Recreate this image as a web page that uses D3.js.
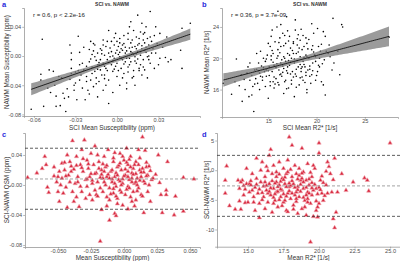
<!DOCTYPE html>
<html><head><meta charset="utf-8">
<script src="https://cdn.jsdelivr.net/npm/d3@7"></script>
<style>html,body{margin:0;padding:0;background:#fff}svg{display:block;font-family:"Liberation Sans",Arial,sans-serif}</style>
</head><body><svg id="c" width="400" height="261"></svg>
<script>
// ---------- data ----------
const panelTitles = ["SCI vs. NAWM","SCI vs. NAWM"];
const panelLetters = ["a","b","c","d"];
const annotA = "r = 0.6, p < 2.2e-16";
const annotB = "r = 0.36, p = 3.7e-09";
const ticksAx = [-0.06,-0.03,0,0.03], ticksAxLab = ["-0.06","-0.03","0.00","0.03"];
const ticksAy = [-0.08,-0.04,0,0.04], ticksAyLab = ["-0.08","-0.04","0.00","0.04"];
const ticksBx = [15,20,25], ticksBxLab = ["15","20","25"];
const ticksBy = [16,20,24], ticksByLab = ["16","20","24"];
const ticksCx = [-0.05,-0.025,0,0.025,0.05], ticksCxLab = ["-0.050","-0.025","0.000","0.025","0.050"];
const ticksCy = [-0.08,-0.04,0,0.04], ticksCyLab = ["-0.08","-0.04","0.00","0.04"];
const ticksDx = [15,17.5,20,22.5,25], ticksDxLab = ["15.0","17.5","20.0","22.5","25.0"];
const ticksDy = [-10,-5,0,5], ticksDyLab = ["-10","-5","0","5"];
const loaC = [0.049, 0.008, -0.0324];   // upper, mean, lower
const loaD = [2.5, -2.65, -7.78];

const qsmPairs = [
[-0.062,-0.073],[-0.054,0.023],[-0.055,-0.025],[-0.055,-0.033],[-0.053,-0.069],[-0.049,-0.019],[-0.046,-0.021],[-0.044,-0.069],[-0.041,-0.068],[-0.042,-0.028],
[-0.039,-0.051],[-0.037,-0.076],[-0.035,-0.056],[-0.034,0.015],[-0.033,0.004],[-0.033,-0.017],[-0.033,-0.024],[-0.031,-0.047],[-0.030,-0.037],[-0.029,-0.060],
[-0.028,0.027],[-0.027,-0.033],[-0.027,-0.012],[-0.025,-0.044],[-0.024,-0.019],[-0.023,-0.060],[-0.022,-0.028],[-0.021,-0.047],[-0.020,-0.008],[-0.020,0.009],
[-0.019,-0.033],[-0.018,-0.015],[-0.017,-0.042],[-0.017,0.017],[-0.016,-0.021],[-0.016,-0.001],[-0.015,-0.030],[-0.014,0.004],[-0.014,-0.056],[-0.013,-0.012],
[-0.013,-0.035],[-0.012,-0.005],[-0.012,-0.019],[-0.011,0.008],[-0.010,-0.047],[-0.010,-0.010],[-0.009,-0.026],[-0.009,0.001],[-0.008,0.013],[-0.008,-0.017],
[-0.007,0.020],[-0.007,-0.005],[-0.006,-0.065],[-0.006,-0.033],[-0.005,-0.001],[-0.004,0.006],[-0.004,-0.012],[-0.003,-0.021],[-0.002,0.015],[-0.002,-0.003],
[-0.001,0.031],[-0.001,0.004],[0.000,-0.028],[0.000,-0.010],[0.001,0.013],[0.002,-0.001],[0.002,0.024],[0.003,-0.017],[0.004,0.008],[0.004,-0.005],
[0.005,0.017],[0.005,-0.024],[0.006,0.004],[0.007,-0.037],[0.007,-0.003],[0.008,0.031],[0.008,-0.015],[0.009,0.011],[0.010,0.047],[0.010,-0.008],
[0.011,0.022],[0.011,0.004],[0.012,-0.028],[0.013,0.013],[0.013,-0.001],[0.014,0.026],[0.014,-0.010],[0.015,0.006],[0.015,0.056],[0.016,0.017],
[0.016,-0.017],[0.017,0.001],[0.017,0.033],[0.018,0.010],[0.019,-0.005],[0.019,0.022],[0.020,-0.019],[0.020,0.008],[0.021,0.040],[0.022,-0.001],
[0.023,0.015],[0.024,0.061],[0.024,0.026],[0.025,0.004],[0.027,-0.017],[0.028,0.040],[0.029,0.017],[0.031,-0.003],[0.037,-0.008],[0.039,-0.005],
[0.046,0.008],[0.047,0.038],[0.047,-0.017],[0.053,0.045],[0.031,0.031],[0.036,0.026],
[-0.018,0.002],[-0.015,-0.006],[-0.012,0.010],[-0.009,-0.014],[-0.006,0.004],[-0.003,-0.007],[0.000,0.008],[0.003,-0.003],[0.006,0.012],[0.009,-0.012],
[0.012,0.002],[0.015,-0.004],[0.018,0.014],[0.021,0.005],[0.024,-0.010],[0.002,0.018],[-0.004,0.020],[0.010,0.018],[0.014,0.010],[0.017,-0.012],
[0.020,0.018],[0.023,0.000],[-0.025,-0.010],[-0.022,-0.035],[-0.028,-0.020],[-0.031,-0.040],[-0.036,-0.045],[-0.040,-0.030],[-0.045,-0.040],[-0.050,-0.044],
[-0.048,-0.050],[-0.038,-0.058],[-0.020,-0.052],[-0.008,-0.040],[0.004,-0.030],[0.008,-0.022],[0.001,-0.020],[-0.011,-0.026],[-0.014,-0.018],[0.016,-0.020],
[0.011,-0.030],[0.026,0.010],[0.019,0.030],[0.012,0.035],[0.005,0.028],[-0.002,0.025],[-0.010,0.022],[-0.016,0.015],[0.028,0.004],[0.030,-0.012],
[0.007,-0.045],[-0.003,-0.050],[0.013,-0.040],[-0.027,0.005],[-0.033,-0.005],[0.022,0.024],[0.018,0.045],[0.009,0.040],[-0.006,0.035],[-0.019,0.020],
[-0.019,-0.004],[-0.017,0.007],[-0.013,-0.009],[-0.011,0.003],[-0.007,-0.020],[-0.005,0.011],[-0.001,-0.014],[0.001,0.002],[0.003,0.010],[0.005,-0.011],
[0.007,0.007],[0.009,-0.003],[0.011,0.012],[0.013,-0.007],[0.015,0.015],[0.017,0.006],[0.019,-0.015],[0.021,0.012],[0.023,-0.005],[0.025,0.020],
[0.014,0.003],[0.010,0.006],[0.006,-0.008],[0.002,0.005],[-0.002,-0.018],[-0.006,-0.009],[-0.010,0.015],[-0.014,-0.012],[-0.018,-0.024],[-0.022,-0.014],
[-0.026,-0.026],[-0.030,-0.022],[-0.034,-0.032],[-0.024,0.012],[0.000,0.020],[0.004,0.015],[0.008,0.023],[0.016,0.024],[0.020,0.032],[0.027,0.028],
[0.033,0.012],[0.035,-0.002],[-0.003,0.000],[0.012,-0.020],[0.018,-0.026],[-0.009,-0.031],[-0.015,-0.038],[0.002,-0.040],[0.022,-0.030],[-0.044,-0.055]
];

const r2Pairs = [
[10.35,16.8],[11.2,15.4],[11.55,17.0],[11.7,19.9],[12.2,17.9],[12.3,14.5],[12.6,16.0],[12.8,18.1],[13.0,15.1],[13.1,19.4],
[13.1,17.2],[13.3,15.3],[13.4,16.4],[13.5,13.2],[13.6,18.5],[13.7,17.4],[13.8,20.6],[13.9,16.8],[14.0,19.4],[14.1,18.1],
[14.1,16.0],[14.2,20.9],[14.3,19.0],[14.4,17.2],[14.5,20.0],[14.6,18.3],[14.7,16.4],[14.7,19.6],[14.8,17.7],[14.9,20.4],
[15.0,14.9],[15.1,18.9],[15.2,21.5],[15.2,17.0],[15.3,19.8],[15.3,22.8],[15.4,18.3],[15.4,23.6],[15.5,20.6],[15.6,16.2],
[15.6,19.1],[15.7,22.1],[15.8,17.4],[15.9,24.0],[15.9,20.0],[16.0,21.1],[16.0,26.0],[16.1,18.5],[16.1,16.6],[16.2,22.6],
[16.3,19.4],[16.3,21.5],[16.4,17.7],[16.5,23.2],[16.6,15.5],[16.6,20.2],[16.6,18.7],[16.7,17.0],[16.8,21.9],[16.8,19.6],
[16.9,25.3],[17.0,18.1],[17.0,20.6],[17.1,16.2],[17.2,22.8],[17.2,19.1],[17.3,21.3],[17.4,17.2],[17.4,20.0],[17.5,18.3],
[17.6,22.1],[17.7,15.1],[17.7,19.4],[17.8,24.9],[17.9,20.6],[17.9,17.7],[18.0,21.7],[18.1,18.9],[18.1,23.0],[18.2,16.6],
[18.3,20.2],[18.3,22.3],[18.4,18.3],[18.5,21.1],[18.6,19.6],[18.6,17.2],[18.7,21.5],[18.8,18.9],[18.9,20.4],[19.0,16.0],
[19.0,21.9],[19.1,18.5],[19.2,20.0],[19.3,17.7],[19.5,21.1],[19.6,19.4],[19.7,23.2],[19.8,20.4],[19.9,17.2],[20.1,23.8],
[20.2,21.5],[20.3,18.9],[20.4,20.9],[20.5,17.0],[20.7,23.4],[20.9,15.3],[21.0,20.9],[21.2,20.6],[21.4,20.2],[21.6,18.5],
[21.7,25.1],[22.6,24.3],[22.7,24.0],[22.4,17.9],[27.5,22.7],
[15.5,19.5],[15.8,18.8],[16.0,20.3],[16.2,17.9],[16.4,19.8],[16.6,21.6],[16.9,18.4],[17.1,19.7],[17.3,18.0],[17.5,21.0],
[17.7,19.9],[17.9,18.6],[18.1,20.8],[18.3,19.2],[18.5,17.6],[18.7,20.1],[18.9,18.2],[19.1,21.2],[19.3,19.0],[19.5,17.9],
[19.7,20.8],[19.9,19.6],[20.1,18.3],[20.3,20.0],[20.6,19.3],[14.5,18.8],[14.8,19.9],[15.1,17.8],[15.4,21.0],[15.7,16.7],
[16.1,22.0],[16.5,19.0],[16.8,17.2],[17.2,20.4],[17.6,17.6],[18.0,22.5],[18.4,18.7],[18.8,16.9],[19.2,22.4],[19.6,18.4],
[14.2,17.7],[13.8,18.6],[13.3,17.8],[12.9,18.9],[12.5,17.3],[17.0,23.5],[17.8,23.6],[18.6,22.9],[16.3,24.3],[19.0,15.6],
[15.0,18.4],[15.3,20.3],[15.6,17.6],[15.9,19.3],[16.2,20.7],[16.5,18.2],[16.7,20.0],[17.0,18.9],[17.3,19.5],[17.6,20.6],
[17.8,18.0],[18.0,19.7],[18.2,21.3],[18.5,18.9],[18.7,19.2],[19.0,20.2],[19.3,18.6],[19.6,21.6],[19.9,20.2],[20.2,19.1],
[20.5,21.8],[20.8,19.8],[21.3,21.7],[21.8,19.4],[22.2,20.9],[14.0,18.4],[14.4,17.6],[14.8,18.5],[15.2,16.5],[15.5,17.0],
[16.0,16.9],[16.3,18.0],[16.9,16.1],[17.4,16.7],[17.9,16.3],[18.3,17.5],[18.9,17.8],[19.4,16.8],[20.0,17.8],[20.7,16.6],
[17.1,22.2],[17.6,21.9],[18.4,23.7],[18.9,22.6],[16.7,22.9],[19.5,24.4],[20.9,22.8],[15.0,21.9],[13.6,16.7],[12.0,16.5]
];

const qsmBA = [
[-0.073,0.010],[-0.066,0.016],[-0.062,0.022],[-0.060,0.038],[-0.059,0.027],[-0.058,-0.003],[-0.057,-0.010],[-0.053,0.024],[-0.051,0.004],[-0.050,0.011],
[-0.050,-0.009],[-0.049,0.018],[-0.049,-0.022],[-0.048,0.000],[-0.047,0.029],[-0.047,0.009],[-0.046,-0.011],[-0.045,0.020],[-0.044,-0.003],[-0.043,0.040],
[-0.043,-0.030],[-0.042,0.013],[-0.041,0.004],[-0.041,0.031],[-0.039,-0.009],[-0.039,0.059],[-0.038,-0.022],[-0.038,0.021],[-0.037,0.002],[-0.036,0.038],
[-0.036,-0.016],[-0.035,0.011],[-0.034,-0.029],[-0.033,0.027],[-0.033,-0.002],[-0.032,0.047],[-0.032,-0.009],[-0.031,0.018],[-0.030,0.060],[-0.029,0.007],
[-0.029,-0.018],[-0.028,0.033],[-0.028,-0.002],[-0.027,0.022],[-0.026,-0.013],[-0.026,0.011],[-0.025,0.042],[-0.024,0.002],[-0.024,-0.020],[-0.023,0.027],
[-0.022,-0.007],[-0.022,0.052],[-0.021,0.016],[-0.021,-0.013],[-0.020,0.004],[-0.019,0.031],[-0.018,-0.004],[-0.018,-0.075],[-0.017,0.020],[-0.017,-0.033],
[-0.016,0.009],[-0.016,-0.009],[-0.015,0.038],[-0.014,0.000],[-0.014,0.024],[-0.013,-0.016],[-0.013,0.011],[-0.012,0.047],[-0.011,-0.004],[-0.011,-0.047],
[-0.010,0.018],[-0.009,0.004],[-0.008,-0.011],[-0.008,0.031],[-0.007,-0.038],[-0.007,0.011],[-0.006,-0.041],[-0.006,-0.002],[-0.005,0.024],[-0.005,-0.018],
[-0.004,0.007],[-0.003,0.042],[-0.003,-0.007],[-0.002,0.020],[-0.001,-0.027],[-0.001,0.002],[0.000,0.033],[0.001,-0.013],[0.001,0.013],[0.002,0.049],
[0.003,-0.002],[0.003,0.027],[0.004,0.007],[0.005,-0.016],[0.005,0.038],[0.006,0.016],[0.007,-0.009],[0.007,0.022],[0.008,0.002],[0.009,-0.020],
[0.009,0.031],[0.010,0.009],[0.011,0.047],[0.011,-0.004],[0.012,0.020],[0.013,-0.013],[0.013,0.011],[0.014,0.064],[0.015,-0.037],[0.016,0.046],
[0.016,0.002],[0.017,0.024],[0.018,-0.009],[0.018,0.013],[0.020,-0.022],[0.021,0.007],[0.022,0.009],[0.026,0.040],[0.028,-0.013],[0.029,-0.037],
[0.032,-0.013],[0.032,-0.007],[0.033,0.031],[0.038,-0.040],[0.039,-0.015],[0.045,0.010],[0.045,-0.035],[0.053,0.008],
[-0.012,0.014],[-0.009,0.008],[-0.006,0.016],[-0.003,0.005],[0.000,0.012],[0.003,0.018],[0.006,0.004],[0.009,0.015],[0.012,0.006],[0.015,0.017],
[-0.015,0.018],[-0.018,0.010],[-0.004,0.026],[0.002,0.030],[0.008,0.027],[-0.008,-0.005],[-0.002,-0.010],[0.004,-0.004],[0.010,-0.008],[0.014,-0.015],
[-0.011,-0.020],[-0.005,-0.025],[0.006,-0.022],[-0.020,-0.015],[-0.024,0.006],[-0.027,0.028],[-0.031,0.035],[-0.036,0.026],[-0.040,0.018],[-0.044,0.012],
[0.017,0.030],[0.019,0.000],[0.020,0.019],[-0.001,0.038],[-0.007,0.043],[0.012,0.036],[-0.016,0.028],[-0.022,0.015],[-0.013,-0.028],[0.003,-0.032],
[-0.019,0.022],[-0.017,0.014],[-0.015,0.004],[-0.013,0.026],[-0.011,0.009],[-0.009,0.020],[-0.007,0.002],[-0.005,0.013],[-0.003,0.029],[-0.001,0.008],
[0.001,0.021],[0.003,0.011],[0.005,0.024],[0.007,0.014],[0.009,0.004],[0.011,0.027],[0.013,0.017],[0.015,0.005],[0.017,0.012],[0.019,0.025],
[-0.010,-0.012],[-0.006,-0.015],[-0.002,0.000],[0.002,-0.006],[0.006,0.009],[0.010,0.000],[0.014,0.022],[-0.025,0.015],[-0.028,0.008],[-0.032,0.023],
[-0.035,0.004],[-0.040,0.025],[-0.045,0.030],[-0.053,0.012],[0.024,0.014],[0.027,0.003],[0.004,0.034],[-0.008,0.036],[-0.020,0.040],[0.008,-0.028]
];

const r2BA = [
[13.4,-1.7],[13.5,0.7],[13.4,-3.9],[13.7,-6.0],[14.1,-6.6],[14.3,-1.7],[14.4,-3.1],[14.4,-5.2],[14.5,-6.6],[14.6,-1.7],
[14.7,-4.2],[14.8,-5.5],[14.9,0.3],[14.9,-2.3],[15.0,-5.4],[15.1,-3.7],[15.1,-2.3],[15.2,-2.5],[15.3,-0.6],[15.4,-4.5],
[15.4,-5.4],[15.5,-6.8],[15.5,-2.9],[15.6,-1.4],[15.6,2.0],[15.7,-3.9],[15.8,-5.6],[15.8,-8.0],[15.9,-2.0],[15.9,0.0],
[16.0,1.4],[16.1,-4.5],[16.1,-2.7],[16.2,-6.5],[16.2,-1.1],[16.3,-3.4],[16.3,0.6],[16.4,-5.4],[16.5,-2.3],[16.5,2.5],
[16.6,-4.2],[16.6,3.5],[16.7,-0.6],[16.7,-7.1],[16.8,-3.1],[16.8,0.8],[16.9,-5.1],[17.0,-2.0],[17.0,-3.7],[17.0,-0.3],
[17.1,-6.2],[17.2,-2.5],[17.2,1.4],[17.3,-4.5],[17.4,-1.4],[17.4,-3.4],[17.5,0.3],[17.5,-5.4],[17.6,-2.3],[17.7,-6.8],
[17.7,-0.6],[17.8,-3.9],[17.8,1.7],[17.9,-2.8],[17.9,5.6],[18.0,-4.8],[18.1,-1.1],[18.1,4.2],[18.2,-5.9],[18.2,-2.3],
[18.3,0.8],[18.4,-3.7],[18.4,-0.6],[18.5,-7.3],[18.5,-2.8],[18.6,0.3],[18.6,-4.5],[18.7,-1.7],[18.8,-6.5],[18.8,3.7],
[18.9,-3.1],[18.9,-0.3],[19.0,-5.1],[19.1,-1.7],[19.1,-7.6],[19.2,-3.7],[19.2,1.1],[19.3,-2.5],[19.4,-5.6],[19.5,-1.1],
[19.5,-4.2],[19.6,-7.8],[19.7,0.3],[19.8,-3.1],[19.9,-6.2],[19.9,-7.9],[20.0,4.6],[20.0,2.9],[20.1,-1.7],[20.2,-3.9],
[20.3,-5.1],[20.5,-2.5],[20.6,1.4],[20.7,0.6],[20.8,-0.6],[20.9,-3.7],[21.0,-1.6],[21.0,-8.2],[21.1,-9.7],[21.1,2.0],
[21.2,-7.1],[21.3,-3.7],[21.6,-0.6],[21.9,-3.4],[22.4,-2.0],[23.2,-1.3],[23.4,-1.7],[23.5,-3.5],[25.0,4.6],[19.4,-12.1],
[16.6,-3.0],[16.9,-2.2],[17.1,-3.6],[17.3,-1.9],[17.5,-4.0],[17.7,-2.8],[17.9,-3.5],[18.1,-1.8],[18.3,-4.2],[18.5,-3.3],
[18.7,-2.4],[18.9,-4.6],[19.1,-2.9],[19.3,-3.9],[19.5,-2.1],[16.4,-3.9],[16.8,-4.6],[17.2,-5.0],[17.6,-1.2],[18.0,-2.6],
[18.4,-5.3],[18.8,-1.4],[19.2,-4.8],[19.6,-3.4],[20.0,-2.9],[15.8,-3.2],[16.2,-2.0],[17.0,-1.1],[17.8,-0.3],[18.6,-0.9],
[19.4,-0.4],[20.2,-1.0],[20.4,-4.3],[17.4,-6.0],[18.2,-6.6],[19.0,-6.2],[16.0,-5.0],[15.3,-3.4],[14.7,-2.6],[19.8,-5.2],
[16.3,-2.6],[16.5,-3.6],[16.7,-1.8],[16.9,-4.0],[17.1,-2.8],[17.3,-3.2],[17.5,-1.6],[17.7,-4.4],[17.9,-2.2],[18.1,-3.9],
[18.3,-2.9],[18.5,-1.5],[18.7,-3.6],[18.9,-2.0],[19.1,-4.2],[19.3,-1.5],[19.5,-3.0],[19.7,-2.4],[19.9,-4.0],[20.1,-3.3],
[20.3,-2.1],[20.6,-3.9],[16.0,-3.8],[15.6,-2.4],[15.2,-1.8],[14.8,-3.2],[14.5,-2.0],[16.8,-5.6],[17.6,-5.1],[18.4,-4.8],
[19.2,-5.4],[20.0,-5.6],[17.2,-0.7],[18.0,0.1],[18.8,-0.5],[19.6,0.8],[16.4,-0.1],[20.5,-0.2],[17.8,-7.0],[19.8,-6.8]
];

// ---------- drawing ----------
const svg = d3.select("#c");
const FONT = '"Liberation Sans",Arial,sans-serif';
const AXC = "#8a8a8a", TXT = "#4d4d4d";

const panels = [
 {x0:24,x1:200,y0:8,y1:116, xd:[-0.0672,0.060], yd:[-0.0822,0.0658], tx:ticksAx, txl:ticksAxLab, ty:ticksAy, tyl:ticksAyLab,
  xt:"SCI Mean Susceptibility (ppm)", yt:"NAWM Mean Susceptibility (ppm)", data:qsmPairs, kind:"reg", title:panelTitles[0], annot:annotA, letter:panelLetters[0], lx:2, ly:7, ytx:6.5, xtY:129.5},
 {x0:222,x1:398,y0:8,y1:117, xd:[10.21,28.43], yd:[12.5,26.42], tx:ticksBx, txl:ticksBxLab, ty:ticksBy, tyl:ticksByLab,
  xt:"SCI Mean R2* [1/s]", yt:"NAWM Mean R2* [1/s]", data:r2Pairs, kind:"reg", title:panelTitles[1], annot:annotB, letter:panelLetters[1], lx:202, ly:7, ytx:206.5, xtY:130},
 {x0:25,x1:200,y0:133,y1:247, xd:[-0.075,0.0576], yd:[-0.0827,0.0693], tx:ticksCx, txl:ticksCxLab, ty:ticksCy, tyl:ticksCyLab,
  xt:"Mean Susceptibility (ppm)", yt:"SCI-NAWM QSM (ppm)", data:qsmBA, kind:"ba", loa:loaC, letter:panelLetters[2], lx:2, ly:137, ytx:6.5, xtY:260},
 {x0:217,x1:400,y0:133,y1:246.7, xd:[12.82,25.7], yd:[-12.9,6.27], tx:ticksDx, txl:ticksDxLab, ty:ticksDy, tyl:ticksDyLab,
  xt:"Mean R2* [1/s]", yt:"SCI-NAWM R2* [1/s]", data:r2BA, kind:"ba", loa:loaD, letter:panelLetters[3], lx:202, ly:137, ytx:206.5, xtY:260}
];

function linfit(data){
  const n=data.length, mx=d3.mean(data,d=>d[0]), my=d3.mean(data,d=>d[1]);
  let sxx=0,sxy=0; data.forEach(d=>{sxx+=(d[0]-mx)**2; sxy+=(d[0]-mx)*(d[1]-my);});
  const b=sxy/sxx, a=my-b*mx;
  let sse=0; data.forEach(d=>{sse+=(d[1]-a-b*d[0])**2;});
  const s=Math.sqrt(sse/(n-2));
  return {a,b,s,n,mx,sxx};
}

panels.forEach(p=>{
  const g = svg.append("g");
  const x = d3.scaleLinear().domain(p.xd).range([p.x0,p.x1]);
  const y = d3.scaleLinear().domain(p.yd).range([p.y1,p.y0]);

  const ax = g.append("g").attr("transform",`translate(0,${p.y1})`)
    .call(d3.axisBottom(x).tickValues(p.tx).tickFormat((d,i)=>p.txl[i]).tickSizeOuter(0).tickSize(1.8).tickPadding(0.5));
  const ay = g.append("g").attr("transform",`translate(${p.x0},0)`)
    .call(d3.axisLeft(y).tickValues(p.ty).tickFormat((d,i)=>p.tyl[i]).tickSizeOuter(0).tickSize(1.8).tickPadding(1));
  [ax,ay].forEach(a=>{
    a.select(".domain").attr("stroke",AXC).attr("stroke-width",0.7);
    a.selectAll(".tick line").attr("stroke",AXC).attr("stroke-width",0.6);
    a.selectAll(".tick text").attr("fill",TXT).attr("font-size",5.6).attr("font-family",FONT);
  });

  g.append("text").attr("x",(p.x0+p.x1)/2).attr("y",p.xtY).attr("text-anchor","middle")
    .attr("font-size",6.4).attr("fill","#333").attr("font-family",FONT).text(p.xt);
  g.append("text").attr("x",0).attr("y",0)
    .attr("transform",`translate(${p.ytx},${(p.y0+p.y1)/2}) rotate(-90)`).attr("text-anchor","middle")
    .attr("dy","0.35em").attr("font-size",6.3).attr("fill","#333").attr("font-family",FONT).text(p.yt);
  g.append("text").attr("x",p.lx).attr("y",p.ly).attr("font-size",7.5).attr("font-weight","bold")
    .attr("fill","#2a2adc").attr("font-family",FONT).text(p.letter);

  if(p.kind==="reg"){
    g.append("text").attr("x",(p.x0+p.x1)/2).attr("y",6).attr("text-anchor","middle")
      .attr("font-size",5).attr("font-weight","bold").attr("fill","#333").attr("font-family",FONT).text(p.title);
    g.append("text").attr("x",p.x0+9).attr("y",17).attr("font-size",6.1).attr("fill","#222").attr("font-family",FONT).text(p.annot);
    const f = linfit(p.data);
    const ext = d3.extent(p.data,d=>d[0]);
    const xs = d3.range(0,81).map(i=>ext[0]+(ext[1]-ext[0])*i/80);
    const band = xs.map(xv=>{
      const yh=f.a+f.b*xv, se=f.s*Math.sqrt(1/f.n+(xv-f.mx)**2/f.sxx)*1.97;
      return {x:xv,lo:yh-se,hi:yh+se,yh};
    });
    g.selectAll("circle").data(p.data).join("circle")
      .attr("cx",d=>x(d[0])).attr("cy",d=>y(d[1])).attr("r",0.8).attr("fill","#000");
    g.append("path").datum(band).attr("d",d3.area().x(d=>x(d.x)).y0(d=>y(d.lo)).y1(d=>y(d.hi)))
      .attr("fill","#7a7a7a").attr("fill-opacity",0.75);
    g.append("path").datum(band).attr("d",d3.line().x(d=>x(d.x)).y(d=>y(d.yh)))
      .attr("fill","none").attr("stroke","#000").attr("stroke-width",0.8);
  } else {
    const sym = d3.symbol().type(d3.symbolTriangle).size(8);
    g.selectAll("path.pt").data(p.data).join("path").attr("class","pt")
      .attr("transform",d=>`translate(${x(d[0])},${y(d[1])})`).attr("d",sym)
      .attr("fill","#d7263d").attr("stroke","#f2a7b0").attr("stroke-width",0.6);
    p.loa.forEach((v,i)=>{
      g.append("line").attr("x1",p.x0).attr("x2",p.x1).attr("y1",y(v)).attr("y2",y(v))
        .attr("stroke",i===1?"#8c8c8c":"#333").attr("stroke-width",0.8).attr("stroke-dasharray","3,2");
    });
  }
});
</script></body></html>
